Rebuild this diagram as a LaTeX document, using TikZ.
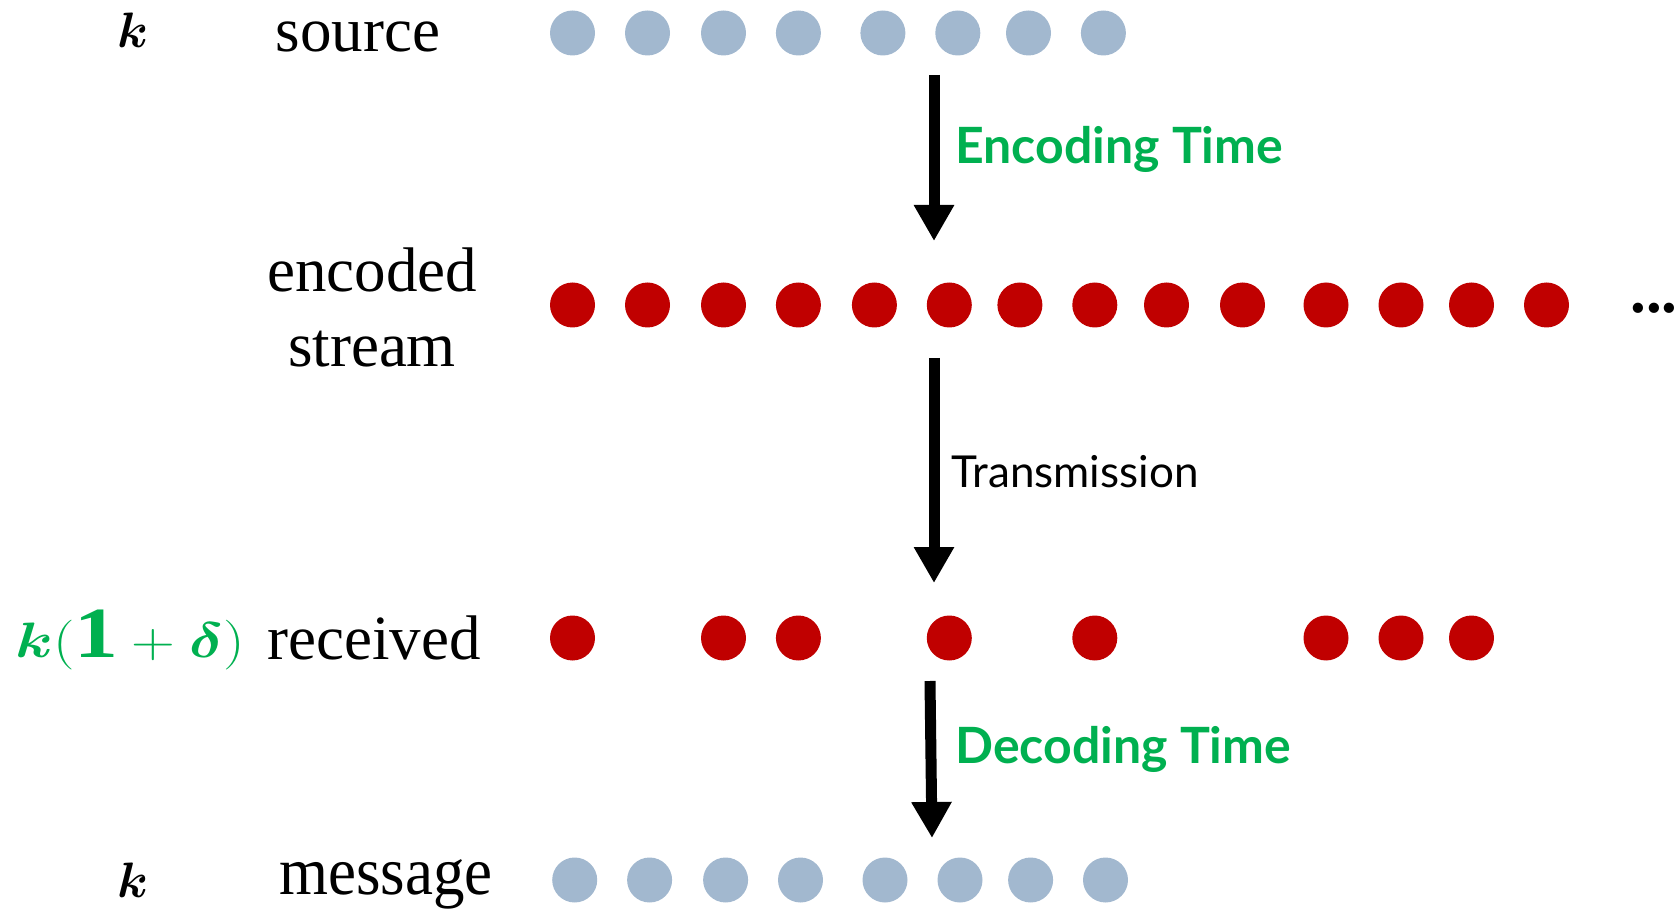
\documentclass[tikz,border=0pt]{standalone}
\usepackage{amsmath,bm}
\usepackage{fontspec}
\usepackage{xcolor}
\setmainfont{Liberation Serif}
\newfontfamily\latofont{Lato}
\usetikzlibrary{arrows.meta}

\definecolor{srcblue}{HTML}{A2B8CF}
\definecolor{symred}{HTML}{C00000}
\definecolor{timegreen}{HTML}{00B050}

\tikzset{
    srcdot/.style={circle, fill=srcblue, minimum size=22.5pt, inner sep=0pt},
    symdot/.style={circle, fill=symred, minimum size=22.5pt, inner sep=0pt},
    bigarrow/.style={line width=5.5pt, -{Triangle[width=19pt,length=18pt]}},
    rowlabel/.style={font=\fontsize{31.5}{37.5}\selectfont, align=center, inner sep=0pt},
    timelabel/.style={font=\latofont\bfseries\fontsize{25}{30}\selectfont, text=timegreen, anchor=west, inner sep=0pt},
    steplabel/.style={font=\latofont\fontsize{22}{26}\selectfont, anchor=west, inner sep=0pt}
}

\begin{document}
\begin{tikzpicture}[x=0.5pt, y=-0.5pt]
    \useasboundingbox (0,0) rectangle (1678,909);

    % Row labels
    \node[rowlabel] (ksrc) at (133,30) {$\bm{k}$};
    \node[rowlabel] (srclab) at (358,37) {source};
    \node[rowlabel] (enclab) at (372,307) {encoded\\stream};
    \node[rowlabel, font=\fontsize{36}{42}\selectfont, text=timegreen] (krecv) at (130,640)
        {\scalebox{1.22}[1]{$\bm{k}(\mathbf{1}+\bm{\delta})$}};
    \node[rowlabel] (recvlab) at (374,638) {received};
    \node[rowlabel] (kmsg) at (133,880) {$\bm{k}$};
    \node[rowlabel] (msglab) at (386,884) {\scalebox{1}[1.08]{message}};

    % Source symbols
    \foreach \x [count=\i] in {572.5,647.5,723.5,798.4,882.9,957.8,1028.5,1103.4}
        \node[srcdot] (s\i) at (\x,33) {};

    % Encoded stream
    \foreach \x [count=\i] in {572.5,647.5,723.5,798.4,874.4,949.3,1019.9,1094.8,1166.5,1242.5,1326,1401,1471.5,1546.5}
        \node[symdot] (e\i) at (\x,305) {};
    \node[rowlabel] (more) at (1654,308) {\textbf{...}};

    % Received symbols (some lost)
    \coordinate (recvrow) at (0,638);
    \foreach \i in {1,3,4,6,8,11,12,13}
        \node[symdot] (r\i) at (e\i |- recvrow) {};

    % Decoded message
    \foreach \x [count=\i] in {574.7,649.6,725.6,800.5,885,960,1030.6,1105.5}
        \node[srcdot] (m\i) at (\x,880) {};

    % Arrows
    \coordinate (encA) at (934,75);
    \coordinate (encB) at (934,241);
    \coordinate (trA) at (934,358);
    \coordinate (trB) at (934,583);
    \coordinate (decA) at (930,681);
    \coordinate (decB) at (932,838);
    \draw[bigarrow] (encA) -- (encB);
    \draw[bigarrow] (trA) -- (trB);
    \draw[bigarrow] (decA) -- (decB);

    \node[timelabel] (enctime) at (955,149) {Encoding Time};
    \node[steplabel] (trlab) at (951,472) {Transmission};
    \node[timelabel] (dectime) at (955,749) {Decoding Time};
\end{tikzpicture}
\end{document}
